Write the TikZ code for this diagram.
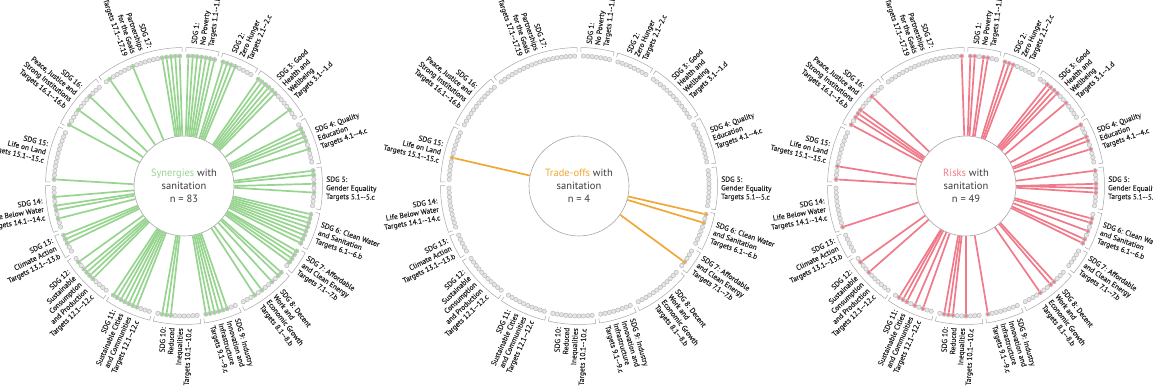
\documentclass[tikz,border=0pt]{standalone}
\usepackage{fontspec}
\setmainfont{PT Sans}
\newfontfamily\lblfont{PT Sans}[FakeBold=0.5]
\definecolor{syn}{HTML}{96D48F}
\definecolor{tro}{HTML}{F0A835}
\definecolor{rsk}{HTML}{F07A89}
\definecolor{ink}{HTML}{262626}
\def\dstep{1.935484}
\def\sdgstart{{0,1,9,18,32,43,53,62,68,81,90,101,112,124,130,141,154,167}}
\def\sdgs{1/1/7/{SDG 1:\\No Poverty\\Targets 1.1--1.b},
  2/9/8/{SDG 2:\\Zero Hunger\\Targets 2.1--2.c},
  3/18/13/{SDG 3: Good\\Health and\\Wellbeing\\Targets 3.1--1.d},
  4/32/10/{SDG 4: Quality\\Education\\Targets 4.1--4.c},
  5/43/9/{SDG 5:\\Gender Equality\\Targets 5.1--5.c},
  6/53/8/{SDG 6: Clean Water\\and Sanitation\\Targets 6.1--6.b},
  7/62/5/{SDG 7: Affordable\\and Clean Energy\\Targets 7.1--7.b},
  8/68/12/{SDG 8: Decent\\Work and\\Economic Growth\\Targets 8.1--8.b},
  9/81/8/{SDG 9: Industry\\Innovation and\\Infrastructure\\Targets 9.1--9.c},
  10/90/10/{SDG 10:\\Reduced\\Inequalities\\Targets 10.1--10.c},
  11/101/10/{SDG 11:\\Sustainable Cities\\and Communities\\Targets 12.1--12.c},
  12/112/11/{SDG 12:\\Sustainable\\Consumption\\and Production\\Targets 12.1--12.c},
  13/124/5/{SDG 13:\\Climate Action\\Targets 13.1--13.b},
  14/130/10/{SDG 14:\\Life Below Water\\Targets 14.1--14.c},
  15/141/12/{SDG 15:\\Life on Land\\Targets 15.1--15.c},
  16/154/12/{SDG 16:\\Peace, Justice and\\Strong Institutions\\Targets 16.1--16.b},
  17/167/19/{SDG 17:\\Partnerships\\for the Goals\\Targets 17.1--17.19}}
\begin{document}
\begin{tikzpicture}[x=1pt,y=1pt,
  dot/.style={circle,inner sep=0pt,minimum size=4.4pt,draw=gray!55,fill=gray!20,line width=0.5pt},
  hub/.style={circle,draw=gray!70,fill=white,line width=0.6pt,minimum size=100pt,inner sep=0pt,align=center,font=\fontsize{10.5}{13}\selectfont,text=ink!90},
  lbl/.style={inner sep=0pt,font=\lblfont\fontsize{7.4}{8.6}\selectfont,text=ink},
  bracket/.style={draw=gray!70,line width=0.5pt},
  link/.style={line width=1.7pt}]
\useasboundingbox (0,0) rectangle (1153,390);
\clip (0,0) rectangle (1153,390);
\foreach \w/\xs/\word/\n/\links in {
  syn/184/Synergies/83/{1/1,1/2,1/3,1/4,1/5,1/6,1/7,2/1,2/2,2/3,2/4,3/1,3/2,3/3,3/4,3/5,3/6,3/11,4/2,4/3,4/4,4/5,4/7,5/1,5/2,5/4,5/6,6/1,6/2,6/3,6/4,6/5,6/6,6/7,6/8,7/1,7/2,7/3,7/4,8/1,8/2,8/4,8/7,8/9,9/3,9/4,9/5,9/6,9/7,9/8,10/7,10/8,10/9,11/4,11/5,11/6,11/7,11/8,11/9,11/10,12/5,12/6,12/7,12/8,12/10,13/3,13/4,13/5,14/3,14/5,14/6,14/8,15/1,16/1,16/5,16/9,17/2,17/8,17/15,17/16,17/17,17/18,17/19},
  tro/579/Trade-offs/4/{6/1,6/3,7/4,15/6},
  rsk/966/Risks/49/{1/1,1/2,1/4,1/5,2/1,2/2,2/3,3/3,3/4,3/5,3/6,3/9,4/1,4/4,4/5,4/7,5/1,5/4,5/5,5/6,6/2,6/3,6/5,6/7,6/8,8/4,8/5,8/8,9/8,10/4,10/7,10/8,10/9,11/3,11/5,11/7,11/8,11/9,12/7,12/10,14/1,15/1,15/4,16/1,16/3,16/4,16/5,16/9,17/19}}{
\begin{scope}[shift={(\xs,204)}]
\node[hub] (\w-hub) at (0,0) {\textcolor{\w}{\word} with\\sanitation\\n = \n};
\foreach \g/\s/\m/\txt in \sdgs{
  \pgfmathsetmacro\aa{90-(\s-0.6)*\dstep}
  \pgfmathsetmacro\ab{90-(\s+\m-0.4)*\dstep}
  \pgfmathsetmacro\am{90-(\s+(\m-1)/2)*\dstep}
  \pgfmathtruncatemacro\rs{cos(\am)>0}
  \ifnum\rs=1 \def\rot{\am}\def\anc{west}\def\al{left}\else\pgfmathsetmacro\rot{\am+180}\def\anc{east}\def\al{right}\fi
  \draw[bracket] (\aa:134pt) -- (\aa:138.5pt) arc[start angle=\aa,end angle=\ab,radius=138.5pt] -- (\ab:134pt);
  \node[lbl,rotate=\rot,anchor=\anc,align=\al] (\w-l\g) at (\am:142pt) {\txt};
  \foreach \i in {1,...,\m}{\node[dot] (\w-\g-\i) at ({90-(\s+\i-1)*\dstep}:130pt) {};}
}
\foreach \g/\i in \links{
  \pgfmathsetmacro\a{90-(\sdgstart[\g]+\i-1)*\dstep}
  \draw[link,\w] (\w-\g-\i) -- (\w-hub.\a);
  \fill[\w] (\w-\g-\i) circle[radius=1.9pt];
}
\end{scope}}
\end{tikzpicture}
\end{document}
